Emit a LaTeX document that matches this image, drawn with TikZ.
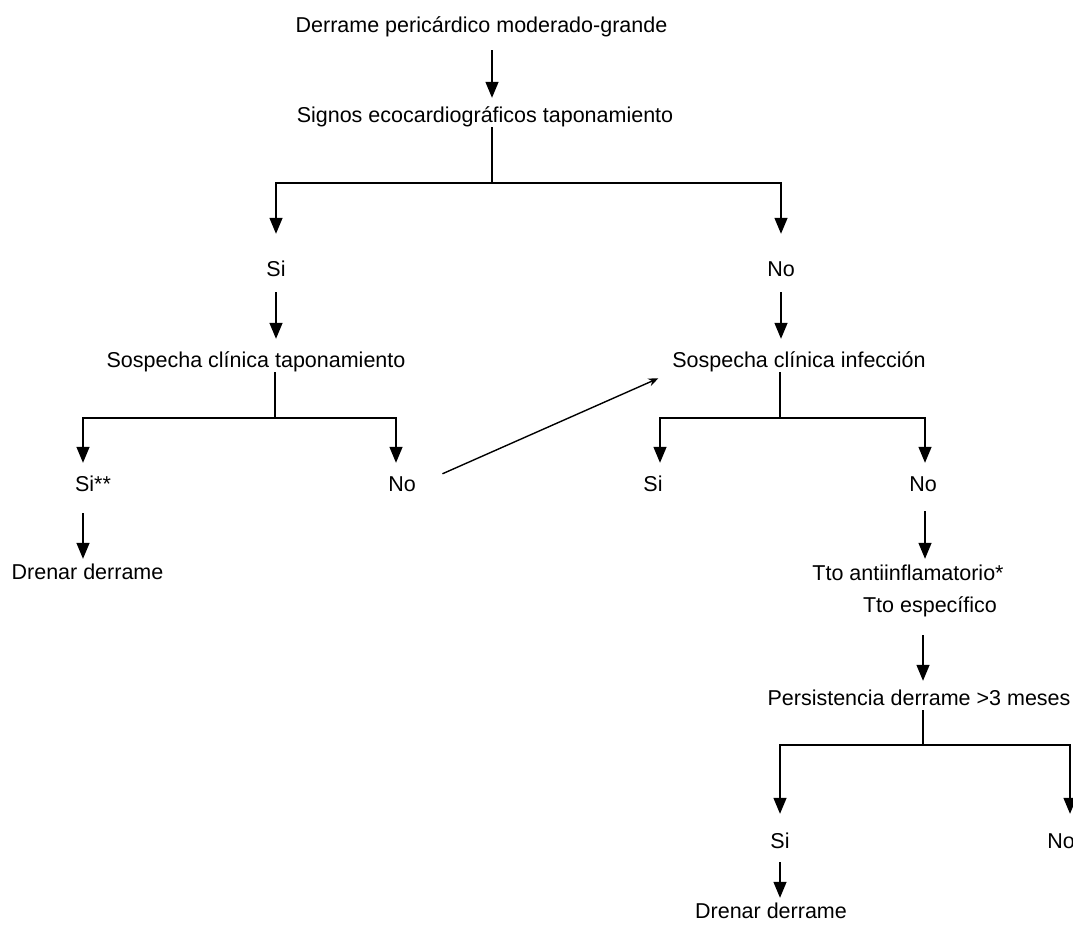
\documentclass[tikz,border=0pt]{standalone}
\usepackage{fontspec}
\setmainfont{Liberation Sans}
\usetikzlibrary{arrows.meta}

\begin{document}
\begin{tikzpicture}[x=1pt, y=-1pt,
    texto/.style={anchor=base, inner sep=0pt, text height=16pt, text depth=5pt,
      font=\fontsize{21.5}{24}\selectfont},
    linea/.style={line width=1.4pt},
    flecha/.style={linea, -{Triangle[width=13pt,length=16pt]}},
    diag/.style={line width=1.4pt, -{Stealth[length=10pt,width=8pt]}}]
  \useasboundingbox (0,0) rectangle (1073,924);

  \node[texto] (derrame) at (481.5,32) {Derrame pericárdico moderado-grande};
  \node[texto] (signos)  at (485,122)  {Signos ecocardiográficos taponamiento};
  \node[texto] (si1)     at (276,276)  {Si};
  \node[texto] (no1)     at (781,276)  {No};
  \node[texto] (stap)    at (256,367)  {Sospecha clínica taponamiento};
  \node[texto] (sinf)    at (799,367)  {Sospecha clínica infección};
  \node[texto] (si2)     at (93,491)   {Si**};
  \node[texto] (no2)     at (402,491)  {No};
  \node[texto] (drenar1) at (87.5,579) {Drenar derrame};
  \node[texto] (si3)     at (653,491)  {Si};
  \node[texto] (no3)     at (923,491)  {No};
  \node[texto] (tto1)    at (908,580)  {Tto antiinflamatorio*};
  \node[texto] (tto2)    at (930,612)  {Tto específico};
  \node[texto] (persist) at (919,705)  {Persistencia derrame >3 meses};
  \node[texto] (si4)     at (780,848)  {Si};
  \node[texto] (no4)     at (1061,848) {No};
  \node[texto] (drenar2) at (771,918)  {Drenar derrame};

  \coordinate (j1) at (492,183);
  \coordinate (j2) at (275,418);
  \coordinate (j3) at (780,418);
  \coordinate (j4) at (923,745);

  \draw[flecha, shorten <=13pt, shorten >=8pt] (derrame.south -| j1) -- (signos.north -| j1);
  \draw[linea] (signos.south -| j1) -- (j1);
  \draw[flecha, shorten >=26pt] (j1) -| (si1.north);
  \draw[flecha, shorten >=26pt] (j1) -| (no1.north);

  \draw[flecha, shorten <=11pt, shorten >=12pt] (si1.south) -- (si1.south |- stap.north);
  \draw[flecha, shorten <=11pt, shorten >=12pt] (no1.south) -- (no1.south |- sinf.north);

  \draw[linea] (stap.south -| j2) -- (j2);
  \draw[flecha, shorten >=12pt] (j2) -| ([xshift=-10pt]si2.north);
  \draw[flecha, shorten >=12pt] (j2) -| ([xshift=-6pt]no2.north);
  \draw[flecha, shorten <=17pt, shorten >=4pt] ([xshift=-10pt]si2.south) -- ([xshift=-10pt]si2.south |- drenar1.north);
  \draw[diag, shorten <=29pt, shorten >=15pt] (no2.east) -- (sinf.south west);

  \draw[linea] (sinf.south -| j3) -- (j3);
  \draw[flecha, shorten >=12pt] (j3) -| ([xshift=7pt]si3.north);
  \draw[flecha, shorten >=12pt] (j3) -| ([xshift=2pt]no3.north);
  \draw[flecha, shorten <=15pt, shorten >=5pt] ([xshift=2pt]no3.south) -- ([xshift=2pt]no3.south |- tto1.north);
  \draw[flecha, shorten <=18pt, shorten >=8pt] (tto2.south -| j4) -- (persist.north -| j4);

  \draw[linea] (persist.south -| j4) -- (j4);
  \draw[flecha, shorten >=18pt] (j4) -| (si4.north);
  \draw[flecha, shorten >=18pt] (j4) -| ([xshift=9pt]no4.north);
  \draw[flecha, shorten <=9pt, shorten >=4pt] (si4.south) -- (si4.south |- drenar2.north);
\end{tikzpicture}
\end{document}
